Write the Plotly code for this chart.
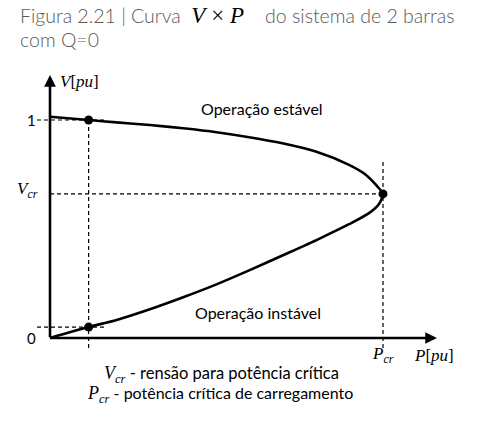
import plotly.graph_objects as go

# ---- data (P in pu, V in pu) ----
P_upper = [0.000, 0.058, 0.100, 0.150, 0.200, 0.250, 0.299, 0.349, 0.399, 0.449, 0.4745, 0.4895, 0.500]
V_upper = [1.015, 1.000, 0.989, 0.977, 0.962, 0.944, 0.921, 0.893, 0.855, 0.794, 0.748, 0.702, 0.661]
P_lower = [0.500, 0.494, 0.479, 0.449, 0.404, 0.359, 0.299, 0.250, 0.200, 0.150, 0.100, 0.058, 0.000]
V_lower = [0.661, 0.615, 0.573, 0.522, 0.455, 0.392, 0.310, 0.246, 0.187, 0.132, 0.083, 0.050, 0.000]

P_CR = 0.500
V_CR = 0.661
P_OP = 0.058
V_OP_STABLE = 1.000
V_OP_UNSTABLE = 0.050

P_AXIS_END = 0.581
V_AXIS_END = 1.206

Y_TICKS = [1.0, V_CR, 0.0]
Y_TICK_TEXT = ["1", "<i>V</i><sub><i>cr</i></sub>", "0"]

SERIF = "Liberation Serif"
SANS = "Lato"

PX_P = 666.0   # pixels per pu along P
PX_V = 218.0   # pixels per pu along V

fig = go.Figure()

# curve
fig.add_trace(go.Scatter(x=P_upper + P_lower[1:], y=V_upper + V_lower[1:],
                         mode="lines", line=dict(color="black", width=2.6, shape="spline", smoothing=0.7),
                         hoverinfo="skip", showlegend=False))

dash = dict(color="black", width=1.2, dash="4px,3px")
below = -0.055
short_l, short_r = -0.0195, 0.083
# dashed guides
fig.add_trace(go.Scatter(x=[0, P_CR], y=[V_CR, V_CR], mode="lines", line=dash, showlegend=False, hoverinfo="skip"))
fig.add_trace(go.Scatter(x=[P_CR, P_CR], y=[0.807, below], mode="lines", line=dash, showlegend=False, hoverinfo="skip"))
fig.add_trace(go.Scatter(x=[P_OP, P_OP], y=[V_OP_STABLE, below], mode="lines", line=dash, showlegend=False, hoverinfo="skip"))
fig.add_trace(go.Scatter(x=[short_l, short_r], y=[V_OP_STABLE, V_OP_STABLE], mode="lines", line=dash, showlegend=False, hoverinfo="skip"))
fig.add_trace(go.Scatter(x=[short_l, short_r], y=[V_OP_UNSTABLE, V_OP_UNSTABLE], mode="lines", line=dash, showlegend=False, hoverinfo="skip"))

# points
fig.add_trace(go.Scatter(x=[P_OP, P_OP, P_CR], y=[V_OP_STABLE, V_OP_UNSTABLE, V_CR], mode="markers",
                         marker=dict(color="black", size=9), showlegend=False, hoverinfo="skip"))

ann = []
# axes arrows
ann.append(dict(x=0, y=V_AXIS_END, ax=0, ay=-0.004, xref="x", yref="y", axref="x", ayref="y", text="",
                showarrow=True, arrowhead=2, arrowsize=0.9, arrowwidth=2.6, arrowcolor="black", standoff=0))
ann.append(dict(x=P_AXIS_END, y=0, ax=-0.002, ay=0, xref="x", yref="y", axref="x", ayref="y", text="",
                showarrow=True, arrowhead=2, arrowsize=0.9, arrowwidth=2.6, arrowcolor="black", standoff=0))

# y tick labels
for v, t in zip(Y_TICKS, Y_TICK_TEXT):
    fam = SERIF if "cr" in t else SANS
    size = 17 if "cr" in t else 15
    ann.append(dict(x=-0.018 if "cr" not in t else -0.015, y=v, xref="x", yref="y", text=t, showarrow=False,
                    xanchor="right", yanchor="middle", yshift=4 if "cr" in t else 0,
                    font=dict(family=fam, size=size, color="black")))

# axis titles / x labels
ann.append(dict(x=0.012, y=V_AXIS_END - 0.03, xref="x", yref="y", text="<i>V</i>[<i>pu</i>]", showarrow=False,
                xanchor="left", yanchor="middle", font=dict(family=SERIF, size=17, color="black")))
ann.append(dict(x=P_CR, y=-0.078, xref="x", yref="y", text="<i>P</i><sub><i>cr</i></sub>", showarrow=False,
                xanchor="center", yanchor="middle", font=dict(family=SERIF, size=17, color="black")))
ann.append(dict(x=P_AXIS_END - 0.004, y=-0.078, xref="x", yref="y", text="<i>P</i>[<i>pu</i>]", showarrow=False,
                xanchor="center", yanchor="middle", font=dict(family=SERIF, size=17, color="black")))

# region labels
ann.append(dict(x=0.318, y=1.055, xref="x", yref="y", text="Operação estável", showarrow=False,
                xanchor="center", yanchor="middle", font=dict(family=SANS, size=16, color="black")))
ann.append(dict(x=0.312, y=0.115, xref="x", yref="y", text="Operação instável", showarrow=False,
                xanchor="center", yanchor="middle", font=dict(family=SANS, size=16, color="black")))

# legend notes
m = "<span style='font-family:%s;font-size:18px'>%s</span>"
ann.append(dict(x=221 / 486, y=1 - 374 / 423, xref="paper", yref="paper",
                text=m % (SERIF, "<i>V</i><sub><i>cr</i></sub>") + " - rensão para potência crítica",
                showarrow=False, xanchor="center", yanchor="middle", font=dict(family=SANS, size=16.5, color="black")))
ann.append(dict(x=220 / 486, y=1 - 394 / 423, xref="paper", yref="paper",
                text=m % (SERIF, "<i>P</i><sub><i>cr</i></sub>") + " - potência crítica de carregamento",
                showarrow=False, xanchor="center", yanchor="middle", font=dict(family=SANS, size=16, color="black")))

# caption
ann.append(dict(x=18 / 486, y=1 - 15 / 423, xref="paper", yref="paper",
                text="Figura 2.21 | Curva  <span style='font-family:Liberation Serif;font-size:23px;color:#000'><i>V</i>&nbsp;×&nbsp;<i>P</i></span>&nbsp;&nbsp;&nbsp;&nbsp;do sistema de 2 barras",
                showarrow=False, xanchor="left", yanchor="middle",
                font=dict(family=SANS, size=19.5, weight=300, color="#595959")))
ann.append(dict(x=18 / 486, y=1 - 39 / 423, xref="paper", yref="paper", text="com Q=0",
                showarrow=False, xanchor="left", yanchor="middle",
                font=dict(family=SANS, size=19.5, weight=300, color="#595959")))

fig.update_layout(
    width=486, height=423, margin=dict(l=0, r=0, t=0, b=0, pad=0),
    paper_bgcolor="white", plot_bgcolor="white",
    xaxis=dict(range=[-50 / PX_P, 436 / PX_P], visible=False, fixedrange=True),
    yaxis=dict(range=[-85 / PX_V, 338 / PX_V], visible=False, fixedrange=True),
    annotations=ann, showlegend=False,
)

fig.write_html("out.html", config={"displayModeBar": False, "staticPlot": True},
               post_script="document.body.style.margin='0';document.body.style.overflow='hidden';")
